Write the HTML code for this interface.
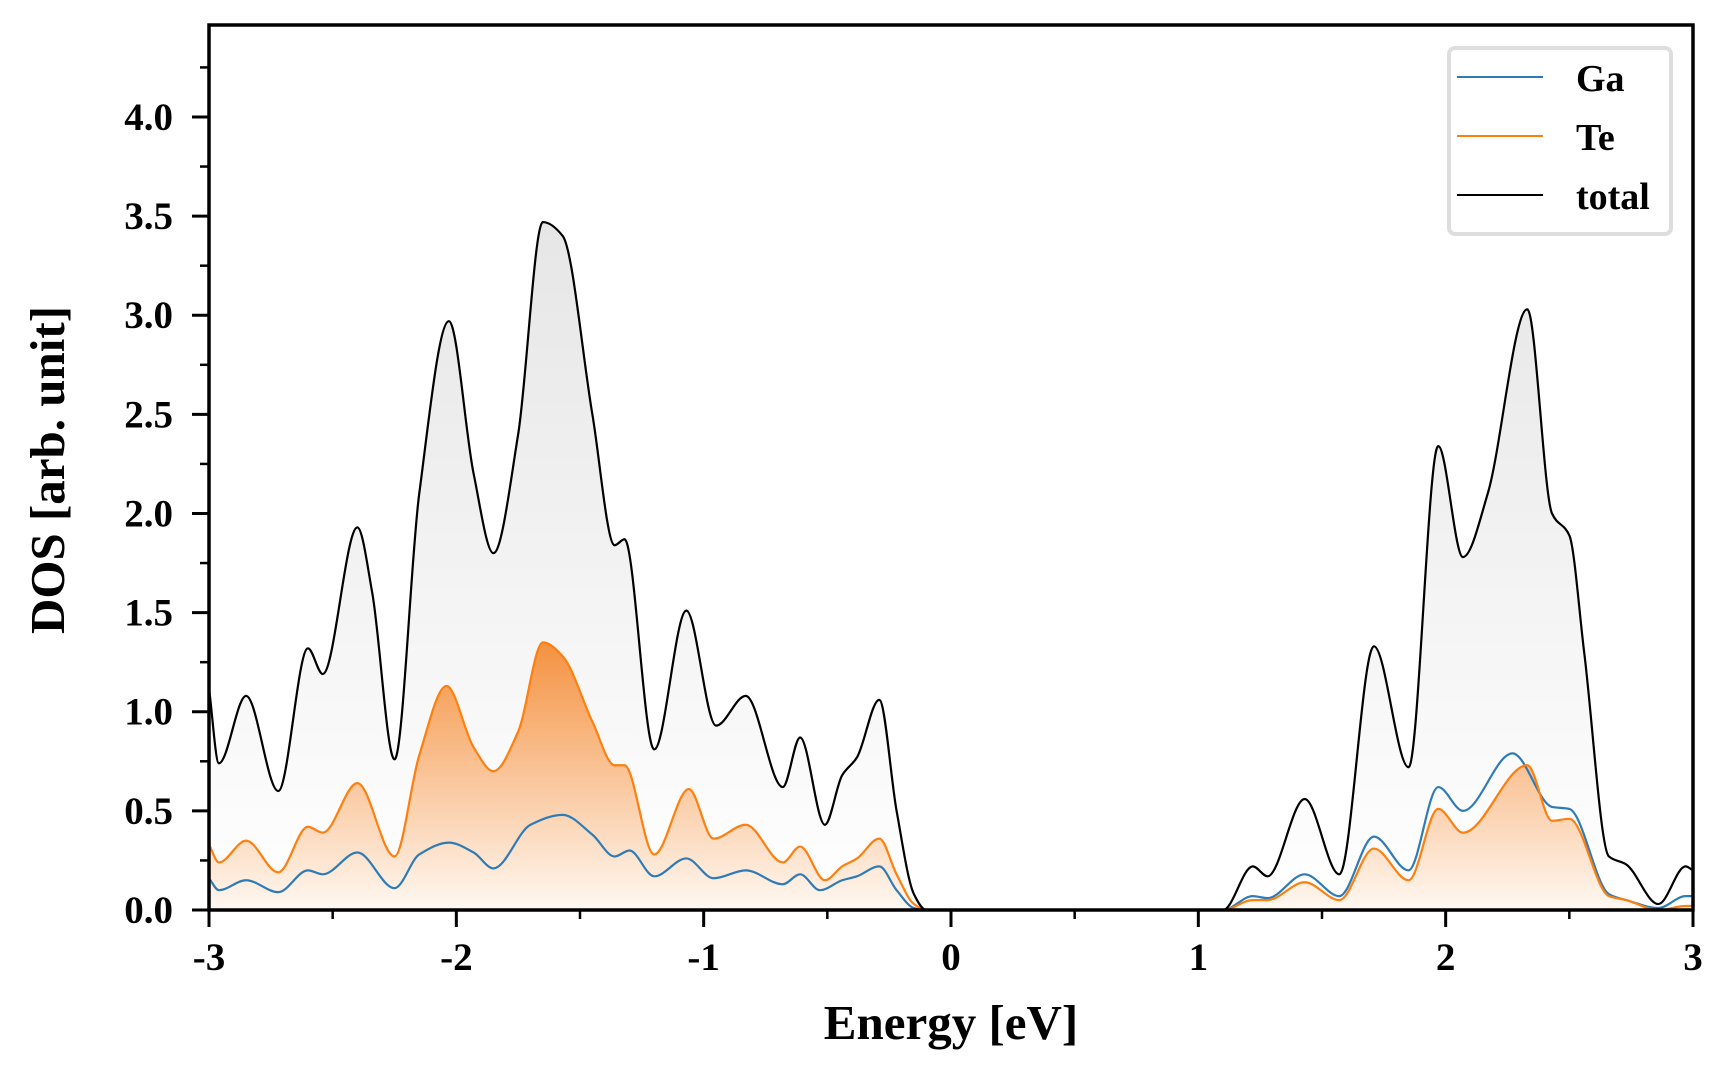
<!DOCTYPE html>
<html><head><meta charset="utf-8"><style>
html,body{margin:0;padding:0;background:#fff;}
svg{display:block;font-family:"Liberation Serif",serif;font-weight:bold;}
</style></head><body>
<svg id="chart" width="1728" height="1080" viewBox="0 0 1728 1080">
<defs>
<linearGradient id="gTot" gradientUnits="userSpaceOnUse" x1="0" y1="220" x2="0" y2="910">
<stop offset="0" stop-color="#e6e6e6"/><stop offset="1" stop-color="#ffffff"/></linearGradient>
<linearGradient id="gTe" gradientUnits="userSpaceOnUse" x1="0" y1="640" x2="0" y2="910">
<stop offset="0" stop-color="#f4913f"/><stop offset="1" stop-color="#fff8f2"/></linearGradient>
<clipPath id="clip"><rect x="209" y="25" width="1484" height="885"/></clipPath>
</defs>
<g id="plot" clip-path="url(#clip)"></g>
<g id="axes"></g>
<text x="951" y="1039" font-size="49" text-anchor="middle">Energy [eV]</text>
<text transform="translate(64,470) rotate(-90)" font-size="49" text-anchor="middle">DOS [arb. unit]</text>
<g>
<rect x="1449" y="48" width="222" height="186" rx="6" fill="#fff" stroke="#dedede" stroke-width="4"/>
<line x1="1457" y1="77" x2="1543" y2="77" stroke="#2f7bb6" stroke-width="2"/>
<text x="1576" y="91" font-size="38">Ga</text>
<line x1="1457" y1="136" x2="1543" y2="136" stroke="#ff7f0e" stroke-width="2"/>
<text x="1576" y="150" font-size="38">Te</text>
<line x1="1457" y1="195" x2="1543" y2="195" stroke="#000" stroke-width="2"/>
<text x="1576" y="209" font-size="38">total</text>
</g>
</svg>
<script>
const totalE=[-3,-2.96,-2.85,-2.72,-2.60,-2.54,-2.40,-2.34,-2.25,-2.15,-2.03,-1.93,-1.85,-1.75,-1.65,-1.57,-1.45,-1.36,-1.32,-1.20,-1.07,-0.95,-0.83,-0.68,-0.61,-0.51,-0.44,-0.38,-0.29,-0.22,-0.15,-0.1,1.07,1.1,1.22,1.28,1.43,1.57,1.71,1.85,1.97,2.07,2.17,2.33,2.43,2.50,2.56,2.66,2.73,2.86,2.97,3.0];
const totalV=[1.12,0.74,1.08,0.60,1.32,1.19,1.93,1.6,0.76,2.1,2.97,2.2,1.80,2.4,3.47,3.40,2.5,1.84,1.87,0.81,1.51,0.93,1.08,0.62,0.87,0.43,0.68,0.77,1.06,0.5,0.08,0,0,0.0,0.22,0.17,0.56,0.18,1.33,0.72,2.34,1.78,2.1,3.03,2.0,1.89,1.3,0.27,0.23,0.03,0.22,0.2];
const teE=[-3,-2.96,-2.85,-2.72,-2.60,-2.54,-2.40,-2.25,-2.15,-2.04,-1.93,-1.85,-1.75,-1.65,-1.57,-1.45,-1.36,-1.32,-1.20,-1.06,-0.96,-0.83,-0.68,-0.61,-0.51,-0.44,-0.38,-0.29,-0.22,-0.15,-0.1,1.1,1.22,1.28,1.43,1.57,1.71,1.85,1.97,2.07,2.33,2.43,2.50,2.66,2.73,2.86,2.97,3.0];
const teV=[0.33,0.24,0.35,0.19,0.42,0.39,0.64,0.27,0.78,1.13,0.82,0.70,0.9,1.35,1.28,0.95,0.73,0.73,0.28,0.61,0.36,0.43,0.24,0.32,0.15,0.22,0.26,0.36,0.18,0.03,0,0,0.05,0.05,0.14,0.05,0.31,0.15,0.51,0.39,0.73,0.45,0.46,0.07,0.05,0.0,0.02,0.02];
const gaE=[-3,-2.96,-2.85,-2.72,-2.60,-2.54,-2.40,-2.25,-2.15,-2.03,-1.93,-1.85,-1.70,-1.57,-1.45,-1.36,-1.30,-1.20,-1.07,-0.96,-0.83,-0.68,-0.61,-0.53,-0.44,-0.38,-0.29,-0.22,-0.15,-0.1,1.1,1.22,1.28,1.43,1.57,1.71,1.85,1.97,2.07,2.27,2.43,2.50,2.66,2.73,2.86,2.97,3.0];
const gaV=[0.16,0.10,0.15,0.09,0.20,0.18,0.29,0.11,0.28,0.34,0.29,0.21,0.43,0.48,0.38,0.27,0.30,0.17,0.26,0.16,0.20,0.13,0.18,0.10,0.15,0.17,0.22,0.1,0.01,0,0,0.07,0.06,0.18,0.07,0.37,0.20,0.62,0.50,0.79,0.52,0.51,0.08,0.05,0.01,0.07,0.07];
const xTicks=[-3,-2,-1,0,1,2,3];
const xTickLabels=["-3","-2","-1","0","1","2","3"];
const yTicks=[0,0.5,1,1.5,2,2.5,3,3.5,4];
const yTickLabels=["0.0","0.5","1.0","1.5","2.0","2.5","3.0","3.5","4.0"];

const X0=209,X1=1693,Y0=910,Y1=25,XMIN=-3,XMAX=3,YMIN=0,YMAX=4.464;
const sx=v=>X0+(v-XMIN)/(XMAX-XMIN)*(X1-X0);
const sy=v=>Y0-(v-YMIN)/(YMAX-YMIN)*(Y0-Y1);
const NS="http://www.w3.org/2000/svg";
function mk(tag,attrs,parent){const e=document.createElementNS(NS,tag);for(const k in attrs)e.setAttribute(k,attrs[k]);parent.appendChild(e);return e;}

function monoPath(xs,ys){
  const n=xs.length,px=xs.map(sx),py=ys.map(sy);
  const d=[],m=new Array(n);
  for(let i=0;i<n-1;i++)d.push((py[i+1]-py[i])/(px[i+1]-px[i]));
  m[0]=d[0];m[n-1]=d[n-2];
  for(let i=1;i<n-1;i++){ if(d[i-1]*d[i]<=0)m[i]=0; else m[i]=2/(1/d[i-1]+1/d[i]); }
  let s="M"+px[0].toFixed(2)+","+py[0].toFixed(2);
  for(let i=0;i<n-1;i++){const h=px[i+1]-px[i];
    s+="C"+(px[i]+h/3).toFixed(2)+","+(py[i]+m[i]*h/3).toFixed(2)+" "+(px[i+1]-h/3).toFixed(2)+","+(py[i+1]-m[i+1]*h/3).toFixed(2)+" "+px[i+1].toFixed(2)+","+py[i+1].toFixed(2);}
  return s;
}
const plot=document.getElementById('plot');
function area(xs,ys,fill,name){
  const p=monoPath(xs,ys)+"L"+sx(xs[xs.length-1])+","+sy(0)+"L"+sx(xs[0])+","+sy(0)+"Z";
  const e=mk('path',{d:p,fill:fill,stroke:'none'},plot);
  
  
}
function line(xs,ys,col,name){
  const e=mk('path',{d:monoPath(xs,ys),fill:'none',stroke:col,'stroke-width':2.2},plot);
  
  
}
area(totalE,totalV,'url(#gTot)','total-fill');
area(teE,teV,'url(#gTe)','te-fill');
line(gaE,gaV,'#2f7bb6','ga-line');
line(teE,teV,'#ff7f0e','te-line');
line(totalE,totalV,'#000','total-line');

const ax=document.getElementById('axes');
for(let i=0;i<xTicks.length;i++){
  const x=sx(xTicks[i]);
  const t=mk('line',{x1:x,y1:Y0,x2:x,y2:Y0+17,stroke:'#000','stroke-width':3},ax);
  
  
  const l=mk('text',{x:x,y:970,'font-size':39,'text-anchor':'middle'},ax);
  l.textContent=xTickLabels[i];
  
  
}
for(let v=-2.5;v<3;v+=1){const x=sx(v);
  const t=mk('line',{x1:x,y1:Y0,x2:x,y2:Y0+9,stroke:'#000','stroke-width':2.5},ax);
  
  }
for(let i=0;i<yTicks.length;i++){
  const y=sy(yTicks[i]);
  const t=mk('line',{x1:X0-17,y1:y,x2:X0,y2:y,stroke:'#000','stroke-width':3},ax);
  
  
  const l=mk('text',{x:173,y:y+13,'font-size':39,'text-anchor':'end'},ax);
  l.textContent=yTickLabels[i];
  
  
}
for(let v=0.25;v<4.4;v+=0.5){const y=sy(v);
  const t=mk('line',{x1:X0-9,y1:y,x2:X0,y2:y,stroke:'#000','stroke-width':2.5},ax);
  
  }
const fr=mk('rect',{x:X0,y:Y1,width:X1-X0,height:Y0-Y1,fill:'none',stroke:'#000','stroke-width':3.5},ax);


</script>
</body></html>
